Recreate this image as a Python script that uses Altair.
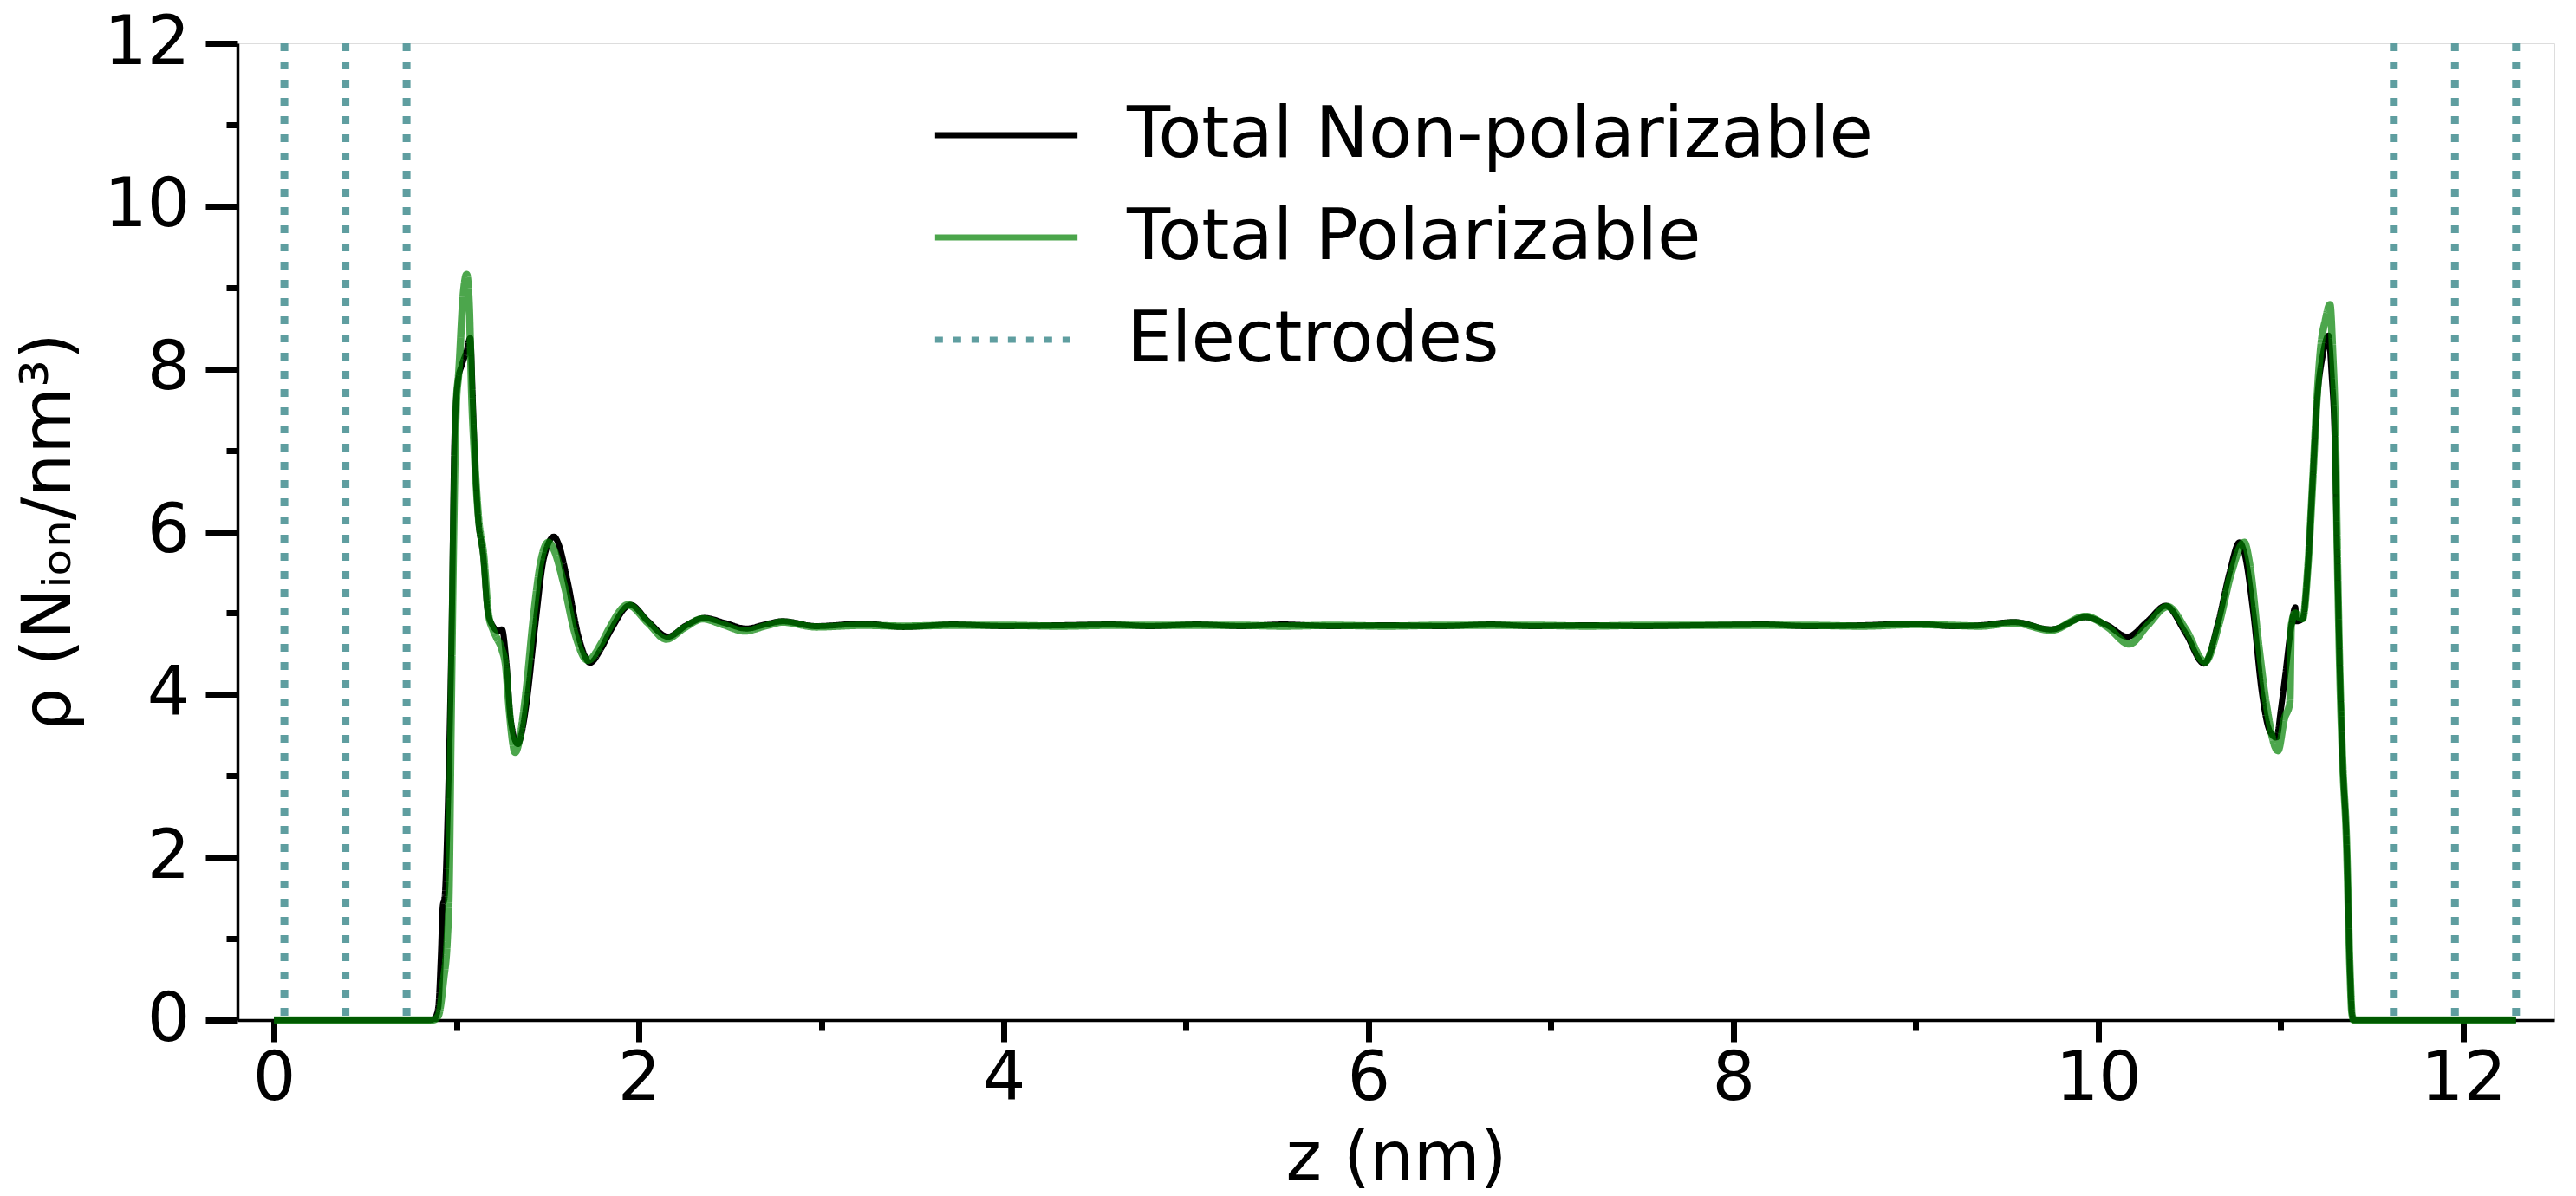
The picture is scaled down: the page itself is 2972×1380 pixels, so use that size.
import altair as alt
import pandas as pd

# ---------------- data ----------------
z_nonpol = [0.0, 0.85, 0.88, 0.90, 0.915, 0.925, 0.935, 0.955, 0.973, 0.99, 1.008, 1.03, 1.053, 1.076,
            1.09, 1.10, 1.116, 1.148, 1.171, 1.20, 1.23, 1.25, 1.274, 1.298, 1.337, 1.36, 1.385, 1.432,
            1.48, 1.535, 1.56, 1.607, 1.67, 1.733, 1.79, 1.844, 1.955, 2.05, 2.16, 2.26, 2.36, 2.47,
            2.59, 2.69, 2.79, 2.97, 3.23, 3.45, 3.72, 4.0, 4.3, 4.59, 4.8, 5.06, 5.3, 5.53, 5.8, 6.1,
            6.4, 6.67, 6.9, 7.2, 7.5, 7.8, 8.17, 8.4, 8.7, 9.0, 9.2, 9.35, 9.54, 9.74, 9.93, 10.05,
            10.16, 10.27, 10.37, 10.48, 10.58, 10.66, 10.72, 10.774, 10.80, 10.85, 10.897, 10.94,
            10.977, 11.0, 11.024, 11.056, 11.08, 11.085, 11.12, 11.15, 11.174, 11.198, 11.23, 11.262,
            11.28, 11.293, 11.309, 11.325, 11.34, 11.36, 11.38, 11.39, 11.40, 12.29]
rho_nonpol = [0, 0, 0.02, 0.15, 0.8, 1.4, 1.5, 2.8, 4.7, 7.2, 7.85, 8.05, 8.2, 8.38,
              7.6, 6.97, 6.26, 5.68, 5.03, 4.84, 4.78, 4.80, 4.39, 3.68, 3.39, 3.55, 3.9, 4.84,
              5.68, 5.94, 5.85, 5.42, 4.71, 4.39, 4.55, 4.78, 5.10, 4.90, 4.71, 4.85, 4.94, 4.88,
              4.81, 4.86, 4.90, 4.84, 4.87, 4.83, 4.86, 4.84, 4.85, 4.86, 4.84, 4.86, 4.84, 4.86, 4.84, 4.85,
              4.84, 4.86, 4.84, 4.85, 4.84, 4.85, 4.86, 4.84, 4.85, 4.87, 4.84, 4.85, 4.89, 4.80, 4.95, 4.85,
              4.71, 4.90, 5.09, 4.75, 4.38, 4.91, 5.5, 5.87, 5.75, 5.0, 4.02, 3.55,
              3.47, 3.8, 4.22, 4.81, 5.07, 4.9, 4.93, 5.60, 6.58, 7.57, 8.16, 8.41,
              7.9, 7.37, 5.79, 4.22, 3.16, 2.25, 0.6, 0.09, 0, 0]

z_pol = [0.0, 0.87, 0.90, 0.93, 0.95, 0.96, 0.97, 0.985, 1.0, 1.012, 1.037, 1.056, 1.07, 1.085,
         1.10, 1.12, 1.15, 1.175, 1.20, 1.22, 1.25, 1.27, 1.29, 1.322, 1.35, 1.38, 1.42, 1.46,
         1.504, 1.53, 1.59, 1.65, 1.72, 1.80, 1.84, 1.94, 2.05, 2.15, 2.25, 2.35, 2.46, 2.58,
         2.69, 2.79, 2.97, 3.23, 3.45, 3.72, 4.0, 4.3, 4.59, 4.8, 5.06, 5.3, 5.53, 5.8, 6.1,
         6.4, 6.67, 6.9, 7.2, 7.5, 7.8, 8.17, 8.4, 8.7, 9.0, 9.2, 9.35, 9.54, 9.74, 9.93,
         10.05, 10.17, 10.27, 10.38, 10.48, 10.585, 10.66, 10.73, 10.80, 10.83, 10.88, 10.92,
         10.985, 11.02, 11.05, 11.058, 11.08, 11.10, 11.12, 11.15, 11.175, 11.198, 11.22, 11.245,
         11.27, 11.285, 11.30, 11.31, 11.325, 11.34, 11.36, 11.38, 11.39, 11.40, 12.29]
rho_pol = [0, 0, 0.05, 0.5, 1.0, 1.6, 3.5, 6.0, 7.6, 7.93, 8.9, 9.16, 8.8, 7.6,
           6.9, 6.2, 5.7, 5.0, 4.8, 4.7, 4.55, 4.35, 3.8, 3.29, 3.5, 4.0, 4.9, 5.6,
           5.87, 5.8, 5.35, 4.75, 4.42, 4.65, 4.82, 5.1, 4.88, 4.68, 4.82, 4.93, 4.86, 4.78,
           4.84, 4.89, 4.83, 4.85, 4.84, 4.85, 4.85, 4.84, 4.85, 4.85, 4.85, 4.85, 4.84, 4.85, 4.84,
           4.85, 4.85, 4.85, 4.84, 4.85, 4.85, 4.85, 4.85, 4.84, 4.86, 4.85, 4.84, 4.88, 4.79, 4.96,
           4.83, 4.62, 4.85, 5.08, 4.8, 4.40, 4.85, 5.5, 5.87, 5.6, 4.6, 3.9,
           3.31, 3.7, 3.9, 4.85, 5.0, 4.95, 4.93, 5.6, 6.6, 7.6, 8.28, 8.6,
           8.79, 8.2, 7.2, 5.8, 4.2, 3.16, 2.25, 0.6, 0.09, 0, 0]

electrode_z = [0.057, 0.392, 0.727, 11.62, 11.955, 12.29]

series_names = ["Total Non-polarizable", "Total Polarizable", "Electrodes"]
series_colors = ["#000000", "#008000", "#5f9ea0"]
series_opacity = [1.0, 0.7, 1.0]
series_dash = [[1, 0], [1, 0], [9, 12]]

x_ticks = [0, 1, 2, 3, 4, 5, 6, 7, 8, 9, 10, 11, 12]
y_ticks = [0, 0.5, 1, 1.5, 2, 2.5, 3, 3.5, 4, 4.5, 5, 5.5, 6, 6.5, 7, 7.5, 8, 8.5,
           9, 9.5, 10, 10.5, 11, 11.5, 12]

x_title = "z (nm)"
y_title = "ρ (Nᵢₒₙ/nm³)"

# ---------------- tables ----------------
df_np = pd.DataFrame({"z": z_nonpol, "rho": rho_nonpol, "series": series_names[0]})
df_p = pd.DataFrame({"z": z_pol, "rho": rho_pol, "series": series_names[1]})
df_e = pd.DataFrame({"z": electrode_z, "series": series_names[2]})

FONT = "DejaVu Sans"

x_scale = alt.Scale(domain=[-0.2, 12.5], nice=False, zero=False)
y_scale = alt.Scale(domain=[0, 12], nice=False, zero=False)

x_axis = alt.Axis(
    values=x_ticks, format="d",
    labelExpr="datum.value % 2 === 0 ? datum.label : ''",
    tickSize={"condition": {"test": "datum.value % 2 === 0", "value": 25}, "value": 12},
    tickWidth=7, tickColor="black",
    domainColor="black", domainWidth=3.5,
    labelFont=FONT, labelFontSize=78, labelColor="black", labelPadding=4,
    labelOverlap=False, labelFlush=False,
    title=x_title, titleFont=FONT, titleFontSize=79, titleFontWeight="normal",
    titleColor="black", titlePadding=14,
    grid=False,
)
y_axis = alt.Axis(
    values=y_ticks, format="d",
    labelExpr="datum.value % 2 === 0 ? datum.label : ''",
    tickSize={"condition": {"test": "datum.value % 2 === 0", "value": 37}, "value": 13},
    tickWidth=7, tickColor="black",
    domainColor="black", domainWidth=3.5,
    labelFont=FONT, labelFontSize=78, labelColor="black", labelPadding=18,
    labelOverlap=False, labelFlush=False,
    title=y_title, titleFont=FONT, titleFontSize=79, titleFontWeight="normal",
    titleColor="black", titlePadding=22,
    grid=False,
)

legend = alt.Legend(
    title=None, orient="none", legendX=801, legendY=56,
    symbolType="stroke", symbolSize=27000, symbolStrokeWidth=7,
    labelFont=FONT, labelFontSize=82, labelColor="black", labelOffset=53,
    labelLimit=0, clipHeight=100, rowPadding=18,
)

color = alt.Color("series:N", scale=alt.Scale(domain=series_names, range=series_colors), legend=legend)
opacity = alt.Opacity("series:N", scale=alt.Scale(type="ordinal", domain=series_names, range=series_opacity), legend=legend)
dash = alt.StrokeDash("series:N", scale=alt.Scale(domain=series_names, range=series_dash), legend=legend)

electrodes = alt.Chart(df_e).mark_rule(strokeWidth=9, strokeCap="butt").encode(
    x=alt.X("z:Q", scale=x_scale, axis=x_axis),
    color=color, opacity=opacity, strokeDash=dash,
)

line_np = alt.Chart(df_np).mark_line(strokeWidth=7, interpolate="monotone", strokeJoin="round").encode(
    x=alt.X("z:Q", scale=x_scale, axis=x_axis),
    y=alt.Y("rho:Q", scale=y_scale, axis=y_axis),
    color=color, opacity=opacity, strokeDash=dash,
)

line_p = alt.Chart(df_p).mark_line(strokeWidth=8.5, interpolate="monotone", strokeJoin="round").encode(
    x=alt.X("z:Q", scale=x_scale, axis=x_axis),
    y=alt.Y("rho:Q", scale=y_scale, axis=y_axis),
    color=color, opacity=opacity, strokeDash=dash,
)

chart = alt.layer(electrodes, line_np, line_p).properties(
    width=2673, height=1127,
    autosize=alt.AutoSizeParams(type="none"),
    padding={"left": 274, "top": 50, "right": 25, "bottom": 203},
    background="white",
).configure_view(
    stroke="black", strokeWidth=3,
).configure(font=FONT)

chart.save("out.html", embed_options={"renderer": "svg", "actions": False})
